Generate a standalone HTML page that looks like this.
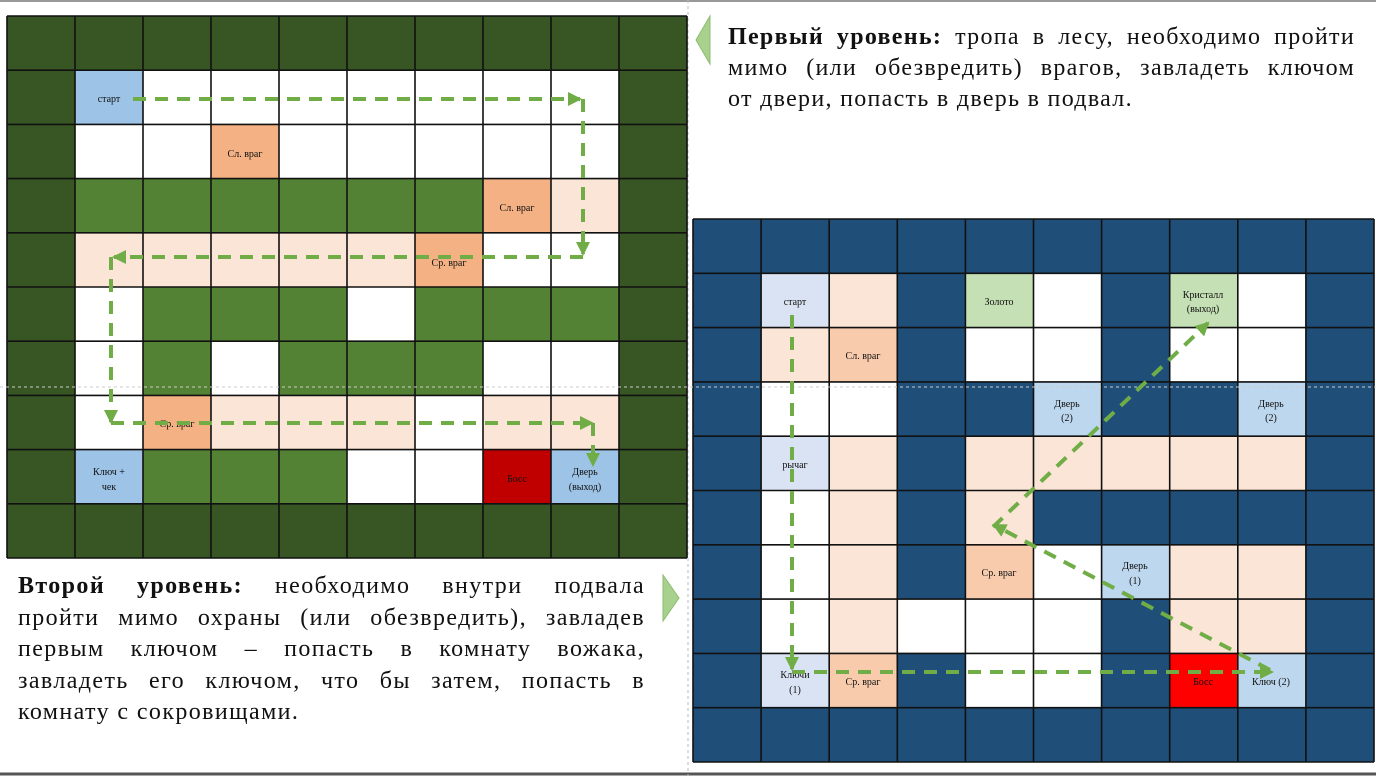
<!DOCTYPE html>
<html><head><meta charset="utf-8"><style>
html,body{margin:0;padding:0;background:#fff;}
body{width:1376px;height:776px;position:relative;overflow:hidden;}
svg{position:absolute;left:0;top:0;}
.t{position:absolute;font-family:"Liberation Serif",serif;color:#111;}
.t div{text-align:justify;text-align-last:justify;white-space:nowrap;}
.t div.l{text-align-last:left;}
</style></head><body>
<svg width="1376" height="776" viewBox="0 0 1376 776">
<defs>
<marker id="ah" markerUnits="userSpaceOnUse" markerWidth="16" markerHeight="16" refX="12" refY="7" orient="auto"><path d="M0,0 L14,7 L0,14 Z" fill="#70ad47"/></marker>
</defs>
<line x1="0" y1="1" x2="1376" y2="1" stroke="#999" stroke-width="2"/>
<line x1="0" y1="774" x2="1376" y2="774" stroke="#555" stroke-width="3"/>
<line x1="688" y1="0" x2="688" y2="776" stroke="#bbb" stroke-width="1" stroke-dasharray="3,3"/>
<g transform="translate(7,16) scale(68,54.2)">
<rect x="0" y="0" width="10" height="10" fill="#375623"/>
<rect x="1" y="1" width="1" height="1" fill="#9dc3e6"/>
<rect x="2" y="1" width="7" height="1" fill="#fff"/>
<rect x="1" y="2" width="8" height="1" fill="#fff"/>
<rect x="3" y="2" width="1" height="1" fill="#f4b183"/>
<rect x="1" y="3" width="6" height="1" fill="#548235"/>
<rect x="7" y="3" width="1" height="1" fill="#f4b183"/>
<rect x="8" y="3" width="1" height="1" fill="#fbe5d6"/>
<rect x="1" y="4" width="5" height="1" fill="#fbe5d6"/>
<rect x="6" y="4" width="1" height="1" fill="#f4b183"/>
<rect x="7" y="4" width="2" height="1" fill="#fff"/>
<rect x="1" y="5" width="8" height="1" fill="#548235"/>
<rect x="1" y="5" width="1" height="1" fill="#fff"/>
<rect x="5" y="5" width="1" height="1" fill="#fff"/>
<rect x="1" y="6" width="8" height="1" fill="#548235"/>
<rect x="1" y="6" width="1" height="1" fill="#fff"/>
<rect x="3" y="6" width="1" height="1" fill="#fff"/>
<rect x="7" y="6" width="2" height="1" fill="#fff"/>
<rect x="1" y="7" width="8" height="1" fill="#fbe5d6"/>
<rect x="1" y="7" width="1" height="1" fill="#fff"/>
<rect x="2" y="7" width="1" height="1" fill="#f4b183"/>
<rect x="6" y="7" width="1" height="1" fill="#fff"/>
<rect x="1" y="8" width="8" height="1" fill="#548235"/>
<rect x="1" y="8" width="1" height="1" fill="#9dc3e6"/>
<rect x="5" y="8" width="2" height="1" fill="#fff"/>
<rect x="7" y="8" width="1" height="1" fill="#c00000"/>
<rect x="8" y="8" width="1" height="1" fill="#9dc3e6"/>
<path vector-effect="non-scaling-stroke" stroke="#111" stroke-width="1.6" fill="none" d="M0,0V10M1,0V10M2,0V10M3,0V10M4,0V10M5,0V10M6,0V10M7,0V10M8,0V10M9,0V10M10,0V10M0,0H10M0,1H10M0,2H10M0,3H10M0,4H10M0,5H10M0,6H10M0,7H10M0,8H10M0,9H10M0,10H10"/>
</g>
<g transform="translate(693,219) scale(68.1,54.3)">
<rect x="0" y="0" width="10" height="10" fill="#1f4e79"/>
<rect x="1" y="1" width="1" height="1" fill="#dae3f3"/>
<rect x="2" y="1" width="1" height="1" fill="#fbe5d6"/>
<rect x="4" y="1" width="1" height="1" fill="#c5e0b4"/>
<rect x="5" y="1" width="1" height="1" fill="#fff"/>
<rect x="7" y="1" width="1" height="1" fill="#c5e0b4"/>
<rect x="8" y="1" width="1" height="1" fill="#fff"/>
<rect x="1" y="2" width="1" height="1" fill="#fbe5d6"/>
<rect x="2" y="2" width="1" height="1" fill="#f8cbad"/>
<rect x="4" y="2" width="2" height="1" fill="#fff"/>
<rect x="7" y="2" width="2" height="1" fill="#fff"/>
<rect x="1" y="3" width="2" height="1" fill="#fff"/>
<rect x="5" y="3" width="1" height="1" fill="#bdd7ee"/>
<rect x="8" y="3" width="1" height="1" fill="#bdd7ee"/>
<rect x="1" y="4" width="1" height="1" fill="#dae3f3"/>
<rect x="2" y="4" width="1" height="1" fill="#fbe5d6"/>
<rect x="4" y="4" width="5" height="1" fill="#fbe5d6"/>
<rect x="1" y="5" width="1" height="1" fill="#fff"/>
<rect x="2" y="5" width="1" height="1" fill="#fbe5d6"/>
<rect x="4" y="5" width="1" height="1" fill="#fbe5d6"/>
<rect x="1" y="6" width="1" height="1" fill="#fff"/>
<rect x="2" y="6" width="1" height="1" fill="#fbe5d6"/>
<rect x="4" y="6" width="1" height="1" fill="#f8cbad"/>
<rect x="5" y="6" width="1" height="1" fill="#fff"/>
<rect x="6" y="6" width="1" height="1" fill="#bdd7ee"/>
<rect x="7" y="6" width="2" height="1" fill="#fbe5d6"/>
<rect x="1" y="7" width="1" height="1" fill="#fff"/>
<rect x="2" y="7" width="1" height="1" fill="#fbe5d6"/>
<rect x="3" y="7" width="3" height="1" fill="#fff"/>
<rect x="7" y="7" width="2" height="1" fill="#fbe5d6"/>
<rect x="1" y="8" width="1" height="1" fill="#dae3f3"/>
<rect x="2" y="8" width="1" height="1" fill="#f8cbad"/>
<rect x="4" y="8" width="2" height="1" fill="#fff"/>
<rect x="7" y="8" width="1" height="1" fill="#ff0000"/>
<rect x="8" y="8" width="1" height="1" fill="#bdd7ee"/>
<path vector-effect="non-scaling-stroke" stroke="#111" stroke-width="1.6" fill="none" d="M0,0V10M1,0V10M2,0V10M3,0V10M4,0V10M5,0V10M6,0V10M7,0V10M8,0V10M9,0V10M10,0V10M0,0H10M0,1H10M0,2H10M0,3H10M0,4H10M0,5H10M0,6H10M0,7H10M0,8H10M0,9H10M0,10H10"/>
</g>
<line x1="0" y1="387" x2="1376" y2="387" stroke="#ccc" stroke-width="1" stroke-dasharray="3,3"/>
<g font-family="Liberation Serif, serif" font-size="10" fill="#111" text-anchor="middle">
<text x="109" y="102">старт</text>
<text x="245" y="157">Сл. враг</text>
<text x="517" y="211">Сл. враг</text>
<text x="449" y="266">Ср. враг</text>
<text x="177" y="427">Ср. враг</text>
<text x="109" y="475">Ключ +</text><text x="109" y="490">чек</text>
<text x="517" y="482">Босс</text>
<text x="585" y="475">Дверь</text><text x="585" y="490">(выход)</text>
<text x="795" y="305">старт</text>
<text x="999" y="305">Золото</text>
<text x="1203" y="298">Кристалл</text><text x="1203" y="312">(выход)</text>
<text x="863" y="359">Сл. враг</text>
<text x="1067" y="407">Дверь</text><text x="1067" y="421">(2)</text>
<text x="1271" y="407">Дверь</text><text x="1271" y="421">(2)</text>
<text x="795" y="468">рычаг</text>
<text x="999" y="576">Ср. враг</text>
<text x="1135" y="569">Дверь</text><text x="1135" y="584">(1)</text>
<text x="795" y="678">Ключи</text><text x="795" y="693">(1)</text>
<text x="863" y="685">Ср. враг</text>
<text x="1203" y="685">Босс</text>
<text x="1271" y="685">Ключ (2)</text>
</g>
<g stroke="#70ad47" stroke-width="4" fill="none" stroke-dasharray="13,9">
<line x1="133" y1="99" x2="580" y2="99" marker-end="url(#ah)"/>
<line x1="583" y1="99" x2="583" y2="254" marker-end="url(#ah)"/>
<line x1="583" y1="257" x2="114" y2="257" marker-end="url(#ah)"/>
<line x1="111" y1="257" x2="111" y2="422" marker-end="url(#ah)"/>
<line x1="111" y1="423" x2="592" y2="423" marker-end="url(#ah)"/>
<line x1="593" y1="423" x2="593" y2="465" marker-end="url(#ah)"/>
<line x1="792" y1="315" x2="792" y2="669" marker-end="url(#ah)"/>
<line x1="792" y1="672" x2="1272" y2="672" marker-end="url(#ah)"/>
<line x1="1270" y1="670" x2="994" y2="525" marker-end="url(#ah)"/>
<line x1="993" y1="527" x2="1208" y2="323" marker-end="url(#ah)"/>
</g>
<polygon points="710,16 710,64 696,40" fill="#a9d18e" stroke="#8bbd6e" stroke-width="1"/>
<polygon points="663,575 663,621 679,598" fill="#a9d18e" stroke="#8bbd6e" stroke-width="1"/>
</svg>
<div class="t" style="left:728px;top:22px;width:627px;font-size:24px;line-height:31px;letter-spacing:1.3px;">
<div><b>Первый уровень:</b> тропа в лесу, необходимо пройти</div>
<div>мимо (или обезвредить) врагов, завладеть ключом</div>
<div class="l">от двери, попасть в дверь в подвал.</div>
</div>
<div class="t" style="left:18px;top:571px;width:627px;font-size:24px;line-height:31.5px;letter-spacing:1.4px;">
<div><b>Второй уровень:</b> необходимо внутри подвала</div>
<div>пройти мимо охраны (или обезвредить), завладев</div>
<div>первым ключом – попасть в комнату вожака,</div>
<div>завладеть его ключом, что бы затем, попасть в</div>
<div class="l">комнату с сокровищами.</div>
</div>
</body></html>
